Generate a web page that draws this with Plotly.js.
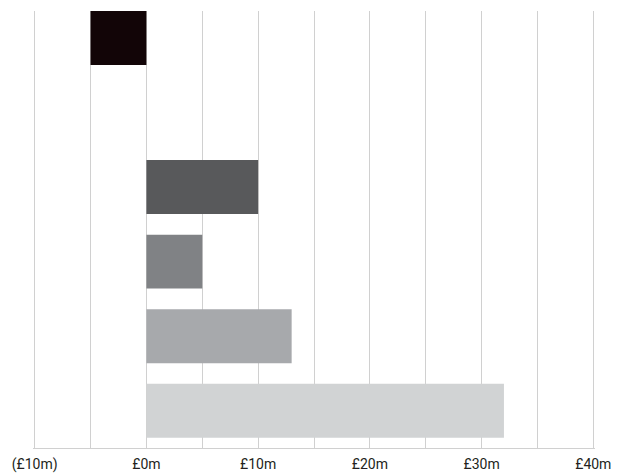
<!DOCTYPE html>
<html>
<head>
<meta charset="utf-8">
<script src="https://cdn.plot.ly/plotly-3.0.1.min.js"></script>
<style>html,body{margin:0;padding:0;background:#fff;}#chart{width:618px;height:473px;}</style>
</head>
<body>
<div id="chart"></div>
<script>
const categories = ["Item 1", "Item 2", "Item 3", "Item 4", "Item 5", "Item 6"];
const values = [-5, null, 10, 5, 13, 32];
const barColors = ["#120507", "#ffffff", "#58595b", "#808285", "#a7a9ac", "#d1d3d4"];
const tickVals = [-10, -5, 0, 5, 10, 15, 20, 25, 30, 35, 40];
const tickText = ["(£10m)", "", "£0m", "", "£10m", "", "£20m", "", "£30m", "", "£40m"];

const data = [{
  type: "bar",
  orientation: "h",
  y: categories,
  x: values,
  marker: { color: barColors, line: { width: 0 } },
  hoverinfo: "x"
}];

const layout = {
  width: 618,
  height: 473,
  margin: { l: 33, r: 23, t: 11, b: 25, pad: 0 },
  paper_bgcolor: "#ffffff",
  plot_bgcolor: "#ffffff",
  showlegend: false,
  bargap: 0.276,
  font: { family: "Roboto, 'Open Sans', sans-serif", size: 14, color: "#231f20" },
  xaxis: {
    range: [-10.15, 40.15],
    tickmode: "array",
    tickvals: tickVals,
    ticktext: tickText,
    showgrid: true,
    gridcolor: "#d0d0d0",
    gridwidth: 1,
    zeroline: false,
    showline: true,
    linecolor: "#d0d0d0",
    linewidth: 1,
    ticks: "",
    ticklabelstandoff: 3,
    fixedrange: true
  },
  yaxis: {
    type: "category",
    range: [5.5, -0.362],
    showticklabels: false,
    showgrid: false,
    zeroline: false,
    showline: false,
    ticks: "",
    fixedrange: true
  }
};

Plotly.newPlot("chart", data, layout, { displayModeBar: false, staticPlot: true });
</script>
</body>
</html>
